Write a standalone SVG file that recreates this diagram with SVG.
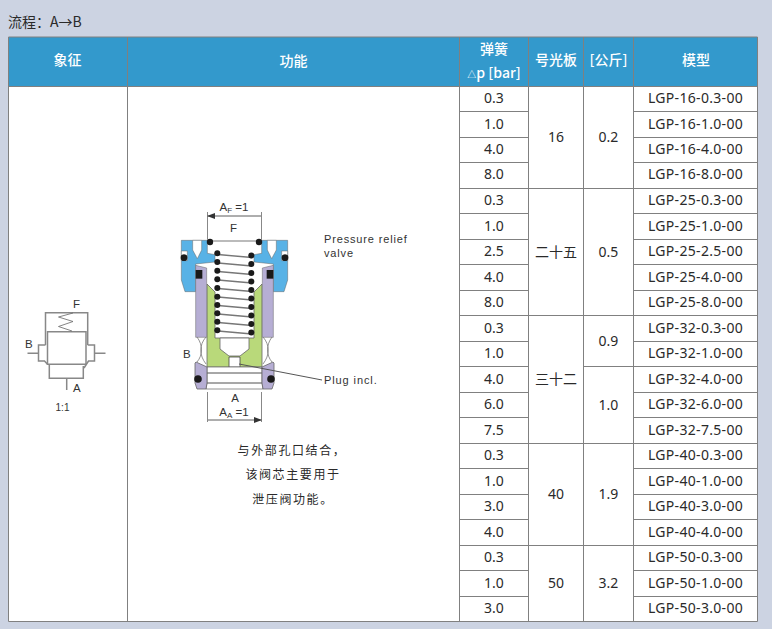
<svg xmlns="http://www.w3.org/2000/svg" width="772" height="629" viewBox="0 0 772 629">
<style>
text{font-family:"Noto Sans","Noto Sans CJK SC",sans-serif;fill:#2a2a2a}
.c{font-size:14px;text-anchor:middle}
.mo{letter-spacing:.32px}
.h{font-family:"Noto Sans CJK SC","Noto Sans",sans-serif;font-size:14px;font-weight:500;fill:#fff;text-anchor:middle}
.z{font-family:"Noto Sans CJK SC",sans-serif;font-size:13px;text-anchor:middle}
.l{font-family:"Liberation Sans",sans-serif;font-size:11.5px;fill:#333}
.m{text-anchor:middle}
.g{fill:none;stroke:#808080;stroke-width:1}
.s{fill:none;stroke:#888;stroke-width:1.5}
.d{fill:#1a1a1a}
.k{fill:none;stroke:#666;stroke-width:.8}
.co{fill:none;stroke:#777;stroke-width:1.3}
</style>
<defs>
<g id="half">
<path d="M64 151H142V190L165 194V216L107 222V305H75L64 270Z" fill="#58b2e6" stroke="#666" stroke-width="1.500"/>
<path d="M98 151H125V180L112 206L98 180Z" fill="#fff" stroke="#666" stroke-width="1.500"/>
<path d="M64 183H82V212H64Z" fill="#fff" stroke="#666" stroke-width="1.500"/>
<path d="M107 226L140 234V442H107Z" fill="#b6aed4" stroke="#666" stroke-width="1.500"/>
<rect x="107" y="240" width="20" height="26" fill="#1a1a1a"/>
<circle cx="72" cy="203" r="10" class="d"/>
<circle cx="150" cy="156" r="9.500" class="d"/>
</g>
<marker id="ar" markerWidth="8" markerHeight="6" refX="7" refY="3" orient="auto-start-reverse" markerUnits="userSpaceOnUse"><path d="M0 0L8 3L0 6Z" fill="#333"/></marker>
</defs>
<rect width="772" height="629" fill="#ccd3e2"/>
<text x="8" y="27" font-size="14" style="font-family:'Noto Sans CJK SC',sans-serif">流程：A→B</text>
<g id="table">
<rect x="8.500" y="37" width="749" height="49.500" fill="#3399cc"/>
<rect x="8.500" y="86.500" width="749" height="535" fill="#fff"/>
<path class="g" d="M8.500 37H757.500V621.500H8.500ZM8.500 86.500H757.500M127.500 37V621.500M459.500 37V621.500M528.500 37V621.500M583.500 37V621.500M633.500 37V621.500"/>
<path class="g" d="M459.500 111.500H528.500M459.500 137.500H528.500M459.500 162.500H528.500M459.500 188.500H633.500M459.500 213.500H528.500M459.500 239.500H528.500M459.500 264.500H528.500M459.500 290.500H528.500M459.500 315.500H633.500M459.500 341.500H528.500M459.500 366.500H528.500M583.500 366.500H633.500M459.500 392.500H528.500M459.500 417.500H528.500M459.500 443.500H633.500M459.500 468.500H528.500M459.500 494.500H528.500M459.500 519.500H528.500M459.500 545.500H633.500M459.500 570.500H528.500M459.500 596.500H528.500"/>
<path class="g" d="M633.500 111.500H757.500M633.500 137.500H757.500M633.500 162.500H757.500M633.500 188.500H757.500M633.500 213.500H757.500M633.500 239.500H757.500M633.500 264.500H757.500M633.500 290.500H757.500M633.500 315.500H757.500M633.500 341.500H757.500M633.500 366.500H757.500M633.500 392.500H757.500M633.500 417.500H757.500M633.500 443.500H757.500M633.500 468.500H757.500M633.500 494.500H757.500M633.500 519.500H757.500M633.500 545.500H757.500M633.500 570.500H757.500M633.500 596.500H757.500"/>
</g>
<g id="header">
<text class="h" x="67.500" y="65">象征</text>
<text class="h" x="293.500" y="66">功能</text>
<text class="h" x="494" y="54">弹簧</text>
<text class="h" x="494" y="78"><tspan font-size="9">△</tspan>p [bar]</text>
<text class="h" x="556" y="65">号光板</text>
<text class="h" x="608.500" y="65">[公斤]</text>
<text class="h" x="696" y="65">模型</text>
</g>
<g id="spring-values">
<text class="c" x="494" y="103">0.3</text><text class="c" x="494" y="129">1.0</text><text class="c" x="494" y="154">4.0</text><text class="c" x="494" y="179">8.0</text>
<text class="c" x="494" y="205">0.3</text><text class="c" x="494" y="231">1.0</text><text class="c" x="494" y="256">2.5</text><text class="c" x="494" y="282">4.0</text><text class="c" x="494" y="307">8.0</text>
<text class="c" x="494" y="333">0.3</text><text class="c" x="494" y="358">1.0</text><text class="c" x="494" y="384">4.0</text><text class="c" x="494" y="409">6.0</text><text class="c" x="494" y="435">7.5</text>
<text class="c" x="494" y="460">0.3</text><text class="c" x="494" y="486">1.0</text><text class="c" x="494" y="511">3.0</text><text class="c" x="494" y="537">4.0</text>
<text class="c" x="494" y="562">0.3</text><text class="c" x="494" y="588">1.0</text><text class="c" x="494" y="613">3.0</text>
</g>
<g id="sizes">
<text class="c" x="556" y="142">16</text>
<text class="z" x="556" y="257" style="font-size:14px">二十五</text>
<text class="z" x="556" y="384" style="font-size:14px">三十二</text>
<text class="c" x="556" y="499">40</text>
<text class="c" x="556" y="588">50</text>
<text class="c" x="608.500" y="142">0.2</text>
<text class="c" x="608.500" y="257">0.5</text>
<text class="c" x="608.500" y="346">0.9</text>
<text class="c" x="608.500" y="410">1.0</text>
<text class="c" x="608.500" y="499">1.9</text>
<text class="c" x="608.500" y="588">3.2</text>
</g>
<g id="models" class="mo">
<text class="c" x="695.500" y="103">LGP-16-0.3-00</text><text class="c" x="695.500" y="129">LGP-16-1.0-00</text><text class="c" x="695.500" y="154">LGP-16-4.0-00</text><text class="c" x="695.500" y="179">LGP-16-8.0-00</text>
<text class="c" x="695.500" y="205">LGP-25-0.3-00</text><text class="c" x="695.500" y="231">LGP-25-1.0-00</text><text class="c" x="695.500" y="256">LGP-25-2.5-00</text><text class="c" x="695.500" y="282">LGP-25-4.0-00</text><text class="c" x="695.500" y="307">LGP-25-8.0-00</text>
<text class="c" x="695.500" y="333">LGP-32-0.3-00</text><text class="c" x="695.500" y="358">LGP-32-1.0-00</text><text class="c" x="695.500" y="384">LGP-32-4.0-00</text><text class="c" x="695.500" y="409">LGP-32-6.0-00</text><text class="c" x="695.500" y="435">LGP-32-7.5-00</text>
<text class="c" x="695.500" y="460">LGP-40-0.3-00</text><text class="c" x="695.500" y="486">LGP-40-1.0-00</text><text class="c" x="695.500" y="511">LGP-40-3.0-00</text><text class="c" x="695.500" y="537">LGP-40-4.0-00</text>
<text class="c" x="695.500" y="562">LGP-50-0.3-00</text><text class="c" x="695.500" y="588">LGP-50-1.0-00</text><text class="c" x="695.500" y="613">LGP-50-3.0-00</text>
</g>
<g id="symbol">
<path class="s" d="M45.500 345V312.700H87.700V345"/>
<path class="s" d="M47.500 331.700H86V364.300H47.500Z"/>
<path class="k" d="M72 331L58.500 326.500L73 321.500L58.500 317L73 313"/>
<path class="s" d="M45.500 345H38.500V361H44.500L47.500 364.300M27.500 353.300H38.500M87.700 345H94.500V361H88.500L84 368M94.500 353.300H105.500M49.300 364.300V378.300H83.300V366M66.700 378.300V390"/>
<text class="l" x="73" y="308">F</text>
<text class="l" x="25" y="348">B</text>
<text class="l" x="73" y="392">A</text>
<text class="l m" x="62.500" y="411" style="font-size:10px">1:1</text>
</g>
<g id="valve">
<path d="M207 284L215 292V338H254V292L262 284V367H207Z" fill="#b9d97a" stroke="#666" stroke-width=".8"/>
<path d="M220 338H249V349L240 356H229L220 349Z" fill="#fff" stroke="#666" stroke-width=".8"/>
<path d="M229 357H240V367H229Z" fill="#fff" stroke="#444" stroke-width=".8"/>
<rect x="208" y="240" width="53" height="2" fill="#bbb"/>
<use href="#half" transform="translate(160 190) scale(.3333)"/>
<use href="#half" transform="translate(309 190) scale(-.3333 .3333)"/>
<path d="M207 367H262V373H207ZM207 373H262V383H207ZM207 383H262L263 389H206Z" fill="#fff" stroke="#777" stroke-width=".8"/>
<path d="M196 362L207 367V383L206 389H197L195 383V363Z" fill="#b6aed4" stroke="#666" stroke-width=".8"/>
<path d="M273 362L262 367V383L263 389H272L274 383V363Z" fill="#b6aed4" stroke="#666" stroke-width=".8"/>
<path d="M197 337C203 345 203 355 197 362M206 337C199 345 199 355 206 364M272 337C266 345 266 355 272 362M263 337C270 345 270 355 263 364" fill="none" stroke="#777" stroke-width=".8"/>
<circle cx="198" cy="379" r="3.800" class="d"/><circle cx="271" cy="379" r="3.800" class="d"/>
<path class="co" d="M218 254.500L252 257.500M218 263L252 266M218 271.500L252 274.500M218 280L252 283M218 288.500L252 291.500M218 297L252 300M218 305.500L252 308.500M218 314L252 317M218 322.500L252 325.500M218 331L252 334"/>
<g class="d"><circle cx="217.300" cy="253.300" r="3"/><circle cx="217.300" cy="262" r="3"/><circle cx="217.300" cy="270.700" r="3"/><circle cx="217.300" cy="279.300" r="3"/><circle cx="217.300" cy="288" r="3"/><circle cx="217.300" cy="296.700" r="3"/><circle cx="217.300" cy="305" r="3"/><circle cx="217.300" cy="313.300" r="3"/><circle cx="217.300" cy="321.700" r="3"/><circle cx="217.300" cy="330.300" r="3"/>
<circle cx="251.300" cy="255.500" r="3"/><circle cx="251.300" cy="264" r="3"/><circle cx="251.300" cy="273" r="3"/><circle cx="251.300" cy="281.500" r="3"/><circle cx="251.300" cy="290" r="3"/><circle cx="251.300" cy="298.500" r="3"/><circle cx="251.300" cy="307" r="3"/><circle cx="251.300" cy="315.500" r="3"/><circle cx="251.300" cy="324" r="3"/><circle cx="251.300" cy="332.500" r="3"/></g>
<path d="M207.500 212V240M261.500 212V240M207.500 392V422M261.500 392V422" stroke="#888" fill="none"/>
<path d="M208 216H261M208 420H261" stroke="#333" stroke-width=".8" marker-start="url(#ar)" marker-end="url(#ar)" fill="none"/>
<path d="M239 364L322 380" stroke="#555" fill="none"/>
<text class="l m" x="234" y="211">A<tspan font-size="8" dy="2">F</tspan><tspan dy="-2"> =1</tspan></text>
<text class="l m" x="233.500" y="232">F</text>
<text class="l m" x="235" y="402">A</text>
<text class="l m" x="234" y="416">A<tspan font-size="8" dy="2">A</tspan><tspan dy="-2"> =1</tspan></text>
<text class="l" x="183" y="358">B</text>
<text class="l" x="324" y="243" letter-spacing=".85" style="font-size:11px">Pressure relief</text>
<text class="l" x="324" y="257" letter-spacing=".85" style="font-size:11px">valve</text>
<text class="l" x="324" y="384" letter-spacing=".9" style="font-size:11px">Plug incl.</text>
</g>
<g id="function-text">
<text class="z" x="292" y="455" style="font-size:12px" letter-spacing="1.600">与外部孔口结合，</text>
<text class="z" x="293" y="479" style="font-size:12px" letter-spacing="1.600">该阀芯主要用于</text>
<text class="z" x="293" y="504" style="font-size:12px" letter-spacing="1.600">泄压阀功能。</text>
</g>
</svg>
